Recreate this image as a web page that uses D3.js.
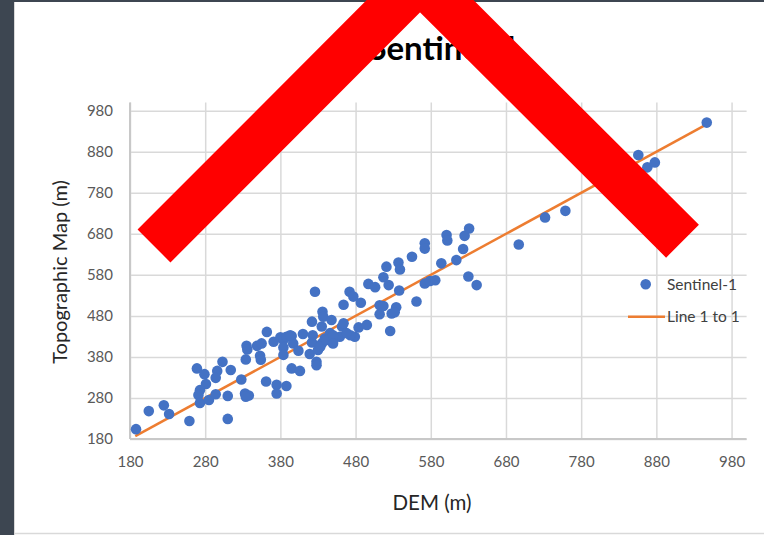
<!DOCTYPE html>
<html>
<head>
<meta charset="utf-8">
<script src="https://cdn.jsdelivr.net/npm/d3@7"></script>
<style>
  html, body { margin: 0; padding: 0; background: #ffffff; }
  svg { display: block; }
  text { font-family: Lato, "Open Sans", sans-serif; }
</style>
</head>
<body>
<script>
// ---- data ----
const chartTitle = "Sentinel-1";
const xTitle = "DEM (m)";
const yTitle = "Topographic Map (m)";
const seriesNames = ["Sentinel-1", "Line 1 to 1"];
const xTicks = [180, 280, 380, 480, 580, 680, 780, 880, 980];
const yTicks = [180, 280, 380, 480, 580, 680, 780, 880, 980];
const demValues = [
  188, 205, 225, 232, 259, 310, 269, 279, 281, 273, 271, 273, 285, 294, 310, 296, 294, 303, 314, 328,
  333, 338, 334, 334, 335, 336, 349, 355, 353, 354, 362, 371, 380, 384, 388, 395, 397, 410, 384, 384,
  404, 422, 419, 428, 428, 430, 435, 439, 450, 446, 459, 395, 406, 361, 375, 375, 388, 393, 423, 422,
  426, 433, 435, 436, 437, 441, 448, 450, 450, 462, 464, 464, 472, 477, 487, 479, 473, 484, 495, 468,
  497, 506, 512, 512, 517, 534, 528, 532, 526, 521, 517, 524, 538, 537, 539, 555, 561, 572, 579, 586,
  572, 572, 594, 614, 623, 601, 602, 625, 631, 630, 641, 697, 732, 759, 856, 868, 878, 947
];
const topoValues = [
  204, 248, 262, 241, 224, 229, 352, 338, 314, 299, 287, 268, 275, 289, 285, 346, 329, 368, 348, 325,
  291, 286, 283, 374, 407, 398, 407, 413, 383, 373, 441, 417, 428, 421, 429, 431, 413, 436, 403, 385,
  395, 415, 387, 368, 360, 397, 413, 425, 417, 438, 429, 352, 346, 320, 312, 291, 309, 433, 433, 466,
  539, 405, 454, 490, 478, 421, 470, 433, 413, 454, 462, 507, 539, 527, 512, 429, 433, 452, 458, 438,
  558, 550, 484, 506, 504, 501, 486, 489, 443, 600, 574, 555, 542, 610, 593, 624, 515, 559, 565, 567,
  657, 644, 608, 616, 643, 677, 664, 675, 693, 576, 555, 654, 720, 736, 872, 842, 854, 951
];
const oneToOneRange = [187, 948];

// ---- layout ----
const W = 764, H = 535;
const svg = d3.select("body").append("svg").attr("width", W).attr("height", H);

// page frame
svg.append("rect").attr("x", 0).attr("y", 0).attr("width", W).attr("height", H).attr("fill", "#ffffff");
svg.append("rect").attr("x", 0).attr("y", 0).attr("width", 14).attr("height", H).attr("fill", "#3d4651");
svg.append("rect").attr("x", 0).attr("y", 0).attr("width", W).attr("height", 2).attr("fill", "#3d4651");
svg.append("line").attr("x1", 14.5).attr("x2", 14.5).attr("y1", 2).attr("y2", H).attr("stroke", "#d9d9d9").attr("stroke-width", 1);
svg.append("line").attr("x1", 14).attr("x2", W).attr("y1", 533.5).attr("y2", 533.5).attr("stroke", "#d9d9d9").attr("stroke-width", 1.5);

const x = d3.scaleLinear().domain([180, 1000]).range([130, 746.6]);
const y = d3.scaleLinear().domain([180, 1000]).range([439, 102.5]);
const [x0, x1] = x.range();
const [y0, y1] = y.range();

// y axis with gridlines
const gy = svg.append("g").attr("transform", `translate(${x0},0)`)
  .call(d3.axisLeft(y).tickValues(yTicks).tickSize(-(x1 - x0)).tickPadding(17).tickFormat(d3.format("d")));
gy.select(".domain").remove();
gy.selectAll(".tick line").attr("stroke", "#d9d9d9").attr("stroke-width", 1.5);
gy.selectAll(".tick text").attr("fill", "#595959").style("font-size", "15px").style("font-family", "Lato, sans-serif");

// x axis with gridlines
const gx = svg.append("g").attr("transform", `translate(0,${y0})`)
  .call(d3.axisBottom(x).tickValues(xTicks).tickSize(-(y0 - y1)).tickPadding(17).tickFormat(d3.format("d")));
gx.select(".domain").remove();
gx.selectAll(".tick line").attr("stroke", "#d9d9d9").attr("stroke-width", 1.5);
gx.selectAll(".tick text").attr("fill", "#595959").style("font-size", "15px").style("font-family", "Lato, sans-serif");

// axis lines
svg.append("line").attr("x1", x0).attr("x2", x1).attr("y1", y0).attr("y2", y0).attr("stroke", "#c8c8c8").attr("stroke-width", 2);
svg.append("line").attr("x1", x0).attr("x2", x0).attr("y1", y0).attr("y2", y1).attr("stroke", "#c8c8c8").attr("stroke-width", 2);

// 1:1 line
svg.append("line")
  .attr("x1", x(oneToOneRange[0])).attr("y1", y(oneToOneRange[0]))
  .attr("x2", x(oneToOneRange[1])).attr("y2", y(oneToOneRange[1]))
  .attr("stroke", "#ED7D31").attr("stroke-width", 2.5);

// points
const pts = demValues.map((d, i) => ({ dem: d, topo: topoValues[i] }));
svg.append("g").selectAll("circle").data(pts).join("circle")
  .attr("cx", d => x(d.dem)).attr("cy", d => y(d.topo)).attr("r", 5.3)
  .attr("fill", "#4472C4");

// titles
svg.append("text").attr("x", 444).attr("y", 60).attr("text-anchor", "middle")
  .style("font-size", "33px").style("font-weight", "bold").attr("fill", "#000")
  .text(chartTitle);
svg.append("text").attr("x", 432).attr("y", 510).attr("text-anchor", "middle")
  .style("font-size", "20.5px").attr("fill", "#262626")
  .text(xTitle);
svg.append("text").attr("transform", "translate(67,272) rotate(-90)").attr("text-anchor", "middle")
  .style("font-size", "20px").attr("fill", "#262626")
  .text(yTitle);

// legend
const lg = svg.append("g");
lg.append("circle").attr("cx", 645.7).attr("cy", 284.3).attr("r", 5.3).attr("fill", "#4472C4");
lg.append("text").attr("x", 667).attr("y", 284.3).attr("dy", "0.35em")
  .style("font-size", "15.5px").attr("fill", "#404040").text(seriesNames[0]);
lg.append("line").attr("x1", 628).attr("x2", 665).attr("y1", 316.7).attr("y2", 316.7)
  .attr("stroke", "#ED7D31").attr("stroke-width", 2.5);
lg.append("text").attr("x", 667).attr("y", 316.7).attr("dy", "0.35em")
  .style("font-size", "15.5px").attr("fill", "#404040").text(seriesNames[1]);

// red chevron overlay
svg.append("path")
  .attr("d", d3.line()([[154, 246], [420, -20.5], [682.5, 241.2]]))
  .attr("fill", "none").attr("stroke", "#ff0000").attr("stroke-width", 46.5)
  .attr("stroke-linejoin", "miter").attr("stroke-miterlimit", 10).attr("stroke-linecap", "butt");
</script>
</body>
</html>
